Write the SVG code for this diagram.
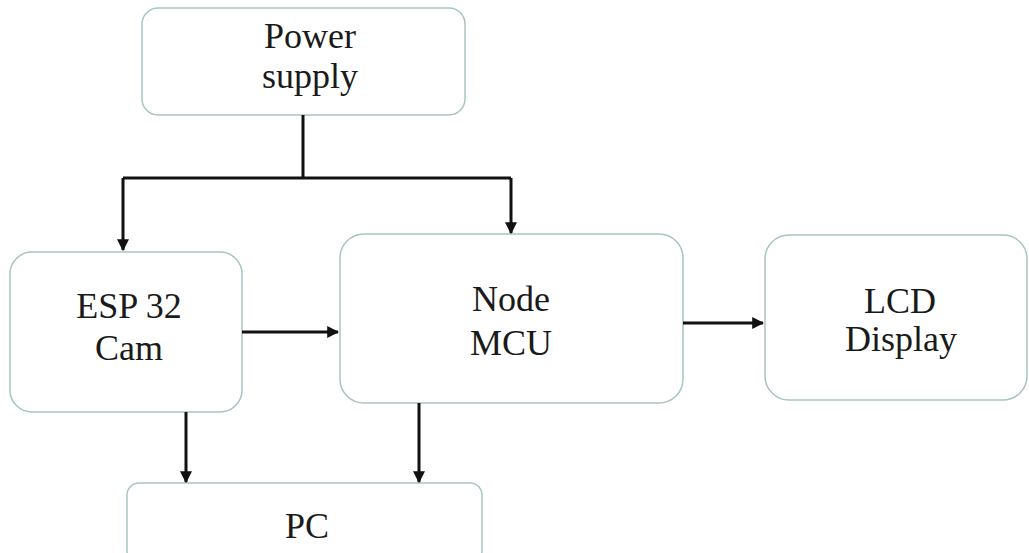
<svg xmlns="http://www.w3.org/2000/svg" width="1029" height="553" viewBox="0 0 1029 553">
<style>
.box{fill:#ffffff;stroke:#a9c3c3;stroke-width:1.5}
.lbl{font-family:'Liberation Serif','Times New Roman',serif;font-size:36px;fill:#1a1a1a;text-anchor:middle}
.ln{fill:none;stroke:#111;stroke-width:3}
</style>
<defs>
<marker id="ah" viewBox="0 0 10 10" refX="9" refY="5" markerWidth="4" markerHeight="4" orient="auto" markerUnits="strokeWidth">
<path d="M0,0 L10,5 L0,10 z" fill="#111"/>
</marker>
</defs>
<rect width="1029" height="553" fill="#ffffff"/>
<g id="power">
<rect class="box" x="142" y="8" width="323" height="107" rx="16"/>
<text class="lbl" x="310" y="48">Power</text>
<text class="lbl" x="310" y="88">supply</text>
</g>
<g id="esp">
<rect class="box" x="10" y="252" width="232" height="160" rx="22"/>
<text class="lbl" x="129" y="318">ESP 32</text>
<text class="lbl" x="129" y="360">Cam</text>
</g>
<g id="node">
<rect class="box" x="340" y="234" width="343" height="169" rx="24"/>
<text class="lbl" x="511" y="311">Node</text>
<text class="lbl" x="511" y="355">MCU</text>
</g>
<g id="lcd">
<rect class="box" x="765" y="235" width="262" height="165" rx="24"/>
<text class="lbl" x="900" y="313">LCD</text>
<text class="lbl" x="901" y="351">Display</text>
</g>
<g id="pc">
<rect class="box" x="127" y="483" width="355" height="80" rx="12"/>
<text class="lbl" x="307" y="538">PC</text>
</g>
<g id="connectors">
<path class="ln" d="M303,115 V178"/>
<path class="ln" d="M123,178 H511"/>
<path class="ln" d="M123,178 V250" marker-end="url(#ah)"/>
<path class="ln" d="M511,178 V233" marker-end="url(#ah)"/>
<path class="ln" d="M242,332 H338" marker-end="url(#ah)"/>
<path class="ln" d="M683,323 H763" marker-end="url(#ah)"/>
<path class="ln" d="M186,412 V482" marker-end="url(#ah)"/>
<path class="ln" d="M419,403 V482" marker-end="url(#ah)"/>
</g>
</svg>
